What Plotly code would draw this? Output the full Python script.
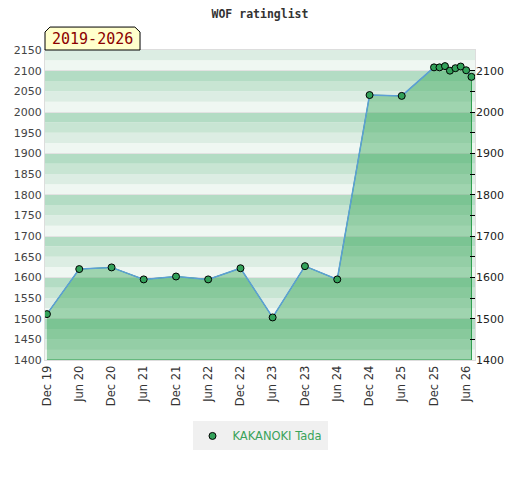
import plotly.graph_objects as go

# rating history (first of each month)
dates = ["2019-12-01", "2020-06-01", "2020-12-01", "2021-06-01", "2021-12-01",
         "2022-06-01", "2022-12-01", "2023-06-01", "2023-12-01", "2024-06-01",
         "2024-12-01", "2025-06-01", "2025-12-01", "2026-01-01", "2026-02-01",
         "2026-03-01", "2026-04-01", "2026-05-01", "2026-06-01", "2026-07-01"]
ratings = [1511, 1620, 1624, 1595, 1602,
           1595, 1622, 1503, 1627, 1595,
           2041, 2039, 2108, 2108, 2111,
           2100, 2106, 2110, 2101, 2085]
player = "KAKANOKI Tada"
period_label = "2019-2026"
y_min, y_max = 1400, 2150

# striped background: 25-point bands, darker toward the top of each hundred
band_colors = ["#eff7f2", "#dcede3", "#c8e5d3", "#b3dcc4"]
shapes = []
for i, lo in enumerate(range(y_min, y_max, 25)):
    shapes.append(dict(type="rect", xref="paper", yref="y", x0=0, x1=1,
                       y0=lo, y1=lo + 25, fillcolor=band_colors[i % 4],
                       line_width=0, layer="below"))

# yellow period tag with cut corners above the plot
shapes.append(dict(type="path", xref="paper", yref="paper",
                   path="M 0,1 L 0,1.058 L 0.0116,1.074 L 0.209,1.074 "
                        "L 0.221,1.058 L 0.221,1 Z",
                   fillcolor="#ffffcc", line=dict(color="black", width=1)))

fig = go.Figure()

# filled area under the rating line
fig.add_trace(go.Scatter(
    x=dates + [dates[-1], dates[0]], y=ratings + [y_min, y_min],
    fill="toself", fillcolor="rgba(39,160,74,0.4)", mode="lines",
    line=dict(color="#2e9e4e", width=1), showlegend=False, hoverinfo="skip"))

fig.add_trace(go.Scatter(
    x=dates, y=ratings, mode="lines",
    line=dict(color="#5c9fd6", width=1.5), showlegend=False, hoverinfo="skip"))

fig.add_trace(go.Scatter(
    x=dates, y=ratings, mode="markers", name=player,
    marker=dict(color="#33a25a", size=7, line=dict(color="black", width=1))))

# right axis carrier
fig.add_trace(go.Scatter(x=dates, y=ratings, mode="none", yaxis="y2",
                         showlegend=False, hoverinfo="skip"))

# page body adds 8px offset, so margins are shifted to compensate
fig.update_layout(
    width=520, height=480,
    margin=dict(l=37, r=53, t=42, b=128),
    paper_bgcolor="white", plot_bgcolor="white",
    font=dict(family="DejaVu Sans", size=11, color="#444"),
    title=dict(text="WOF ratinglist", x=0.4846, xanchor="center", y=0.995,
               yanchor="top", pad=dict(t=0, b=0),
               font=dict(family="DejaVu Sans Mono", size=11.5, color="#333",
                         weight="bold")),
    shapes=shapes,
    annotations=[dict(text=period_label, xref="paper", yref="paper",
                      x=0.1105, y=1.037, xanchor="center", yanchor="middle",
                      showarrow=False,
                      font=dict(family="DejaVu Sans Mono", size=15,
                                color="#8b0000"))],
    xaxis=dict(type="date", range=["2019-11-20", "2026-07-21"],
               tick0="2019-12-01", dtick="M6", tickformat="%b %y",
               tickangle=-90, showgrid=False, showline=True,
               linecolor="#dddddd", mirror=True, ticks="", automargin=False,
               tickfont=dict(color="#333", size=11.5)),
    yaxis=dict(range=[y_min, y_max], dtick=50, showgrid=False,
               showline=True, linecolor="#dddddd", mirror=True,
               zeroline=False, ticks="", automargin=False,
               tickfont=dict(color="#444", size=11)),
    yaxis2=dict(range=[y_min, y_max], overlaying="y", side="right",
                dtick=100, showgrid=True, gridcolor="#e2e2e2", gridwidth=1,
                zeroline=False, ticks="inside", ticklen=5, tickcolor="black",
                minor=dict(dtick=50, ticks="inside", ticklen=5,
                           tickcolor="black"),
                automargin=False, tickfont=dict(color="#222", size=11)),
    legend=dict(orientation="h", x=0.5, xanchor="center", y=-0.245,
                yanchor="middle", bgcolor="#f0f0f0", itemwidth=30,
                font=dict(color="#3aa35a", size=11.5)),
)

fig.write_html("out.html")
